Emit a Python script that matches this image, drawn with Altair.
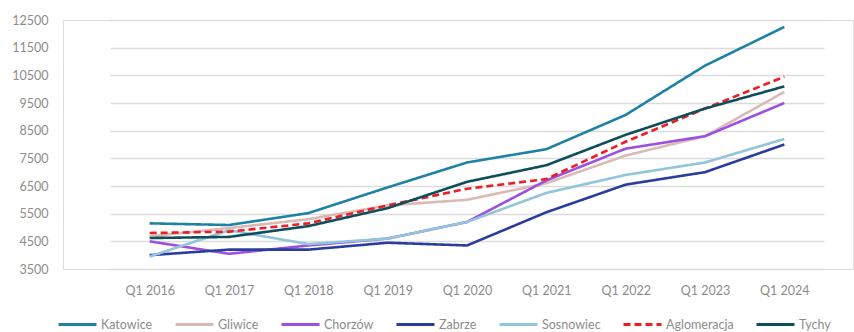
import altair as alt
import pandas as pd

quarters = ["Q1 2016", "Q1 2017", "Q1 2018", "Q1 2019", "Q1 2020",
            "Q1 2021", "Q1 2022", "Q1 2023", "Q1 2024"]
series_names = ["Katowice", "Gliwice", "Chorzów", "Zabrze", "Sosnowiec", "Aglomeracja", "Tychy"]

katowice = [5150, 5090, 5520, 6450, 7350, 7830, 9070, 10850, 12250]
gliwice = [4680, 4980, 5300, 5800, 6000, 6600, 7600, 8300, 9900]
chorzow = [4500, 4050, 4350, 4600, 5200, 6700, 7850, 8300, 9500]
zabrze = [4000, 4200, 4200, 4450, 4350, 5550, 6550, 7000, 8000]
sosnowiec = [3950, 4900, 4400, 4600, 5200, 6250, 6900, 7350, 8200]
aglomeracja = [4800, 4850, 5150, 5800, 6400, 6750, 8100, 9300, 10450]
tychy = [4620, 4660, 5050, 5700, 6650, 7250, 8350, 9300, 10100]

values = [katowice, gliwice, chorzow, zabrze, sosnowiec, aglomeracja, tychy]
y_ticks = [3500, 4500, 5500, 6500, 7500, 8500, 9500, 10500, 11500, 12500]

colors = ["#1f82a3", "#d9bab5", "#9b50e0", "#2a3d9c", "#92c5da", "#ee1c25", "#0e4d5a"]
dashes = [[1, 0], [1, 0], [1, 0], [1, 0], [1, 0], [7, 4], [1, 0]]

rows = []
for name, vals in zip(series_names, values):
    for q, v in zip(quarters, vals):
        rows.append({"Kwartał": q, "Seria": name, "Cena": v, "order": series_names.index(name)})
df = pd.DataFrame(rows)

font = "Lato"
W, H = 790, 249

chart = alt.Chart(df).mark_line(strokeWidth=2.6).encode(
    x=alt.X("Kwartał:N", sort=quarters,
            scale=alt.Scale(type="point", range=[47, 761]),
            axis=alt.Axis(title=None, labelAngle=0, domain=False, ticks=False,
                          labelPadding=15, labelColor="#8c8c8c", labelFontSize=12.5,
                          labelFont=font, grid=False)),
    y=alt.Y("Cena:Q", scale=alt.Scale(domain=[3500, 12500], nice=False, zero=False),
            axis=alt.Axis(title=None, values=y_ticks, format="d", domain=False, ticks=False,
                          labelPadding=15, labelColor="#8c8c8c", labelFontSize=12.5,
                          labelFont=font, gridColor="#dcdcdc", gridWidth=1.5)),
    color=alt.Color("Seria:N", sort=series_names,
                    scale=alt.Scale(domain=series_names, range=colors),
                    legend=alt.Legend(title=None, orient="none", direction="horizontal",
                                      columns=7, legendX=-6, legendY=284,
                                      symbolType="stroke", symbolSize=1444,
                                      symbolStrokeWidth=3, labelColor="#8c8c8c",
                                      labelFontSize=12.5, labelFont=font,
                                      columnPadding=16, labelOffset=3)),
    strokeDash=alt.StrokeDash("Seria:N", sort=series_names,
                              scale=alt.Scale(domain=series_names, range=dashes),
                              legend=None),
    order=alt.Order("order:Q"),
).properties(
    width=W, height=H,
    autosize=alt.AutoSizeParams(type="none"),
    padding={"left": 63, "top": 20, "right": 1, "bottom": 63},
).configure_view(stroke=None).configure(background="white")

chart.save("out.html", embed_options={"renderer": "svg", "actions": False})
